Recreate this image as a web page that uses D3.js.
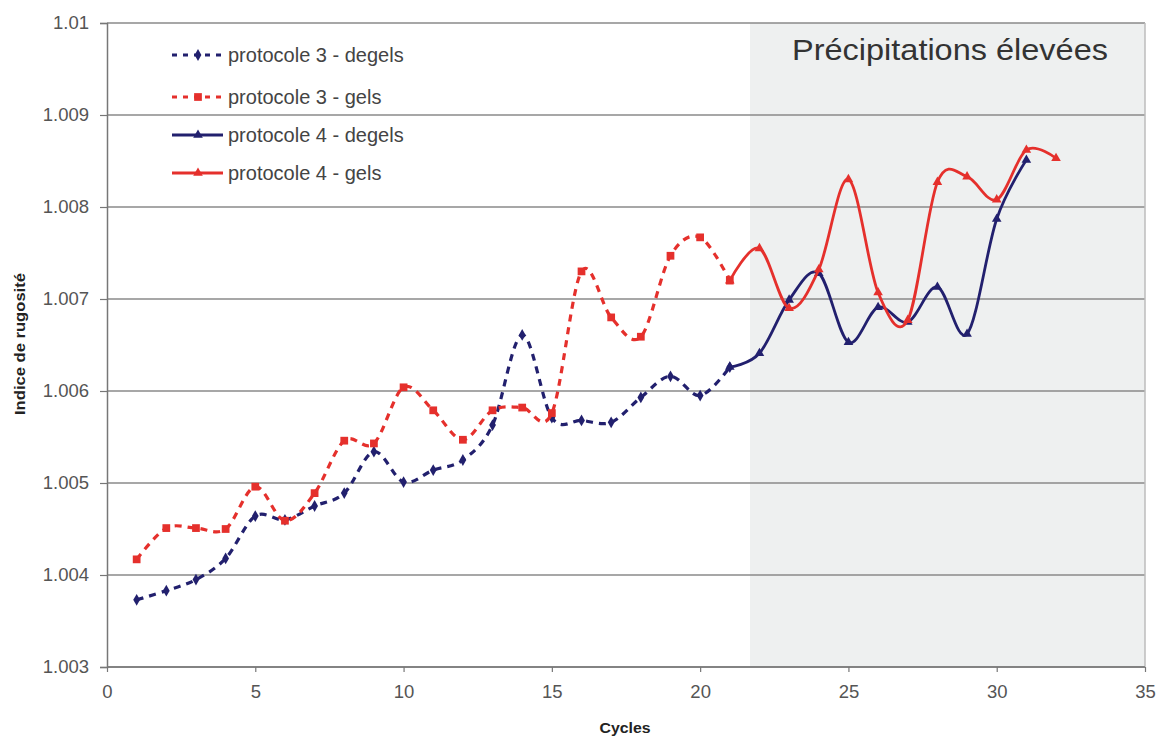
<!DOCTYPE html>
<html><head><meta charset="utf-8">
<script src="https://cdn.jsdelivr.net/npm/d3@7"></script>
<style>body{margin:0;background:#fff;font-family:"Liberation Sans",Arial,sans-serif}</style>
</head><body><svg id="c" width="1165" height="738"></svg>
<script>
const p3Cycles = [1,2,3,4,5,6,7,8,9,10,11,12,13,14,15,16,17,18,19,20,21];
const p3Degels = [1.00373,1.00383,1.00395,1.00418,1.00464,1.00460,1.00475,1.00489,1.00534,1.00501,1.00514,1.00525,1.00563,1.00661,1.00571,1.00568,1.00566,1.00593,1.00616,1.00595,1.00626];
const p3Gels   = [1.00417,1.00451,1.00451,1.00450,1.00496,1.00459,1.00489,1.00546,1.00543,1.00604,1.00579,1.00547,1.00579,1.00582,1.00576,1.00730,1.00680,1.00659,1.00747,1.00767,1.00720];
const p4DegCycles = [21,22,23,24,25,26,27,28,29,30,31];
const p4Degels = [1.00626,1.00641,1.00699,1.00728,1.00653,1.00691,1.00675,1.00713,1.00662,1.00787,1.00851];
const p4GelCycles = [21,22,23,24,25,26,27,28,29,30,31,32];
const p4Gels   = [1.00720,1.00755,1.00690,1.00732,1.00830,1.00707,1.00677,1.00827,1.00833,1.00808,1.00862,1.00853];
const xTicks = [0,5,10,15,20,25,30,35];
const yTicks = [1.003,1.004,1.005,1.006,1.007,1.008,1.009,1.01];
const shadeStart = 21.68;
const legendLabels = ["protocole 3 - degels","protocole 3 - gels","protocole 4 - degels","protocole 4 - gels"];

const BLUE = "#22206e", RED = "#e5302c";
const svg = d3.select("#c");
const x = d3.scaleLinear().domain([0,35]).range([107,1145]);
const y = d3.scaleLinear().domain([1.003,1.01]).range([667,23]);

// shaded region
svg.append("rect").attr("x", x(shadeStart)).attr("y", y(1.01)).attr("width", x(35)-x(shadeStart)).attr("height", y(1.003)-y(1.01)).attr("fill","#eef0f0");

// gridlines
svg.append("g").selectAll("line").data(yTicks).join("line")
  .attr("x1", x(0)).attr("x2", x(35)).attr("y1", d=>y(d)).attr("y2", d=>y(d))
  .attr("stroke","#8a8a8a").attr("stroke-width",1.5);
svg.append("line").attr("x1",x(35)).attr("x2",x(35)).attr("y1",y(1.01)).attr("y2",y(1.003)).attr("stroke","#bdbdbd").attr("stroke-width",1.5);

// axes
const yAxis = svg.append("g").attr("transform",`translate(${x(0)},0)`)
  .call(d3.axisLeft(y).tickValues(yTicks).tickSize(7).tickPadding(11).tickFormat(d=>d3.format("")(+d.toFixed(3))));
const xAxis = svg.append("g").attr("transform",`translate(0,${y(1.003)})`)
  .call(d3.axisBottom(x).tickValues(xTicks).tickSize(5).tickPadding(13));
[yAxis,xAxis].forEach(a=>{
  a.select(".domain").attr("stroke","#777").attr("stroke-width",1.5);
  a.selectAll(".tick line").attr("stroke","#777").attr("stroke-width",1.2);
  a.selectAll("text").attr("fill","#555").attr("font-size",18.5);
});
xAxis.select(".domain").attr("d",`M${x(0)},0H${x(35)}`);

// titles
svg.append("text").attr("x", 625).attr("y", 733).attr("text-anchor","middle").attr("font-weight","bold").attr("font-size",15).attr("fill","#222")
  .attr("textLength",51).attr("lengthAdjust","spacingAndGlyphs").text("Cycles");
svg.append("text").attr("transform",`translate(25,344) rotate(-90)`).attr("text-anchor","middle").attr("font-weight","bold").attr("font-size",14).attr("fill","#222")
  .attr("textLength",142).attr("lengthAdjust","spacingAndGlyphs").text("Indice de rugosité");
svg.append("text").attr("x", 950).attr("y", 60).attr("text-anchor","middle").attr("font-size",29).attr("fill","#333")
  .attr("textLength",316).attr("lengthAdjust","spacingAndGlyphs").text("Précipitations élevées");

const curve = d3.curveCardinal.tension(0);
function series(xs, ys, color, dash, marker){
  const pts = xs.map((c,i)=>[c,ys[i]]);
  svg.append("path").datum(pts).attr("fill","none").attr("stroke",color).attr("stroke-width", dash?3.2:2.8)
    .attr("stroke-dasharray", dash||null)
    .attr("d", d3.line().x(d=>x(d[0])).y(d=>y(d[1])).curve(curve));
  const sym = d3.symbol().type(marker).size(marker===d3.symbolSquare?60:40);
  svg.append("g").selectAll("path").data(pts).join("path")
    .attr("transform",d=>`translate(${x(d[0])},${y(d[1])})`).attr("d",sym).attr("fill",color);
}
series(p3Cycles,p3Degels,BLUE,"7,6",d3.symbolDiamond);
series(p3Cycles,p3Gels,RED,"7,6",d3.symbolSquare);
series(p4DegCycles,p4Degels,BLUE,null,d3.symbolTriangle);
series(p4GelCycles,p4Gels,RED,null,d3.symbolTriangle);

// legend
const leg = [
  {c:BLUE,dash:"5,6",m:d3.symbolDiamond,s:40},
  {c:RED,dash:"5,6",m:d3.symbolSquare,s:60},
  {c:BLUE,dash:null,m:d3.symbolTriangle,s:40},
  {c:RED,dash:null,m:d3.symbolTriangle,s:40}];
const ly = [55,97,135,173];
leg.forEach((l,i)=>{
  const g = svg.append("g").attr("transform",`translate(0,${ly[i]})`);
  g.append("line").attr("x1",172).attr("x2",223).attr("stroke",l.c).attr("stroke-width",3).attr("stroke-dasharray",l.dash);
  g.append("path").attr("transform","translate(198,0)").attr("d",d3.symbol().type(l.m).size(l.s)).attr("fill",l.c);
  g.append("text").attr("x",228).attr("y",7).attr("font-size",20).attr("fill","#444").text(legendLabels[i]);
});
</script></body></html>
